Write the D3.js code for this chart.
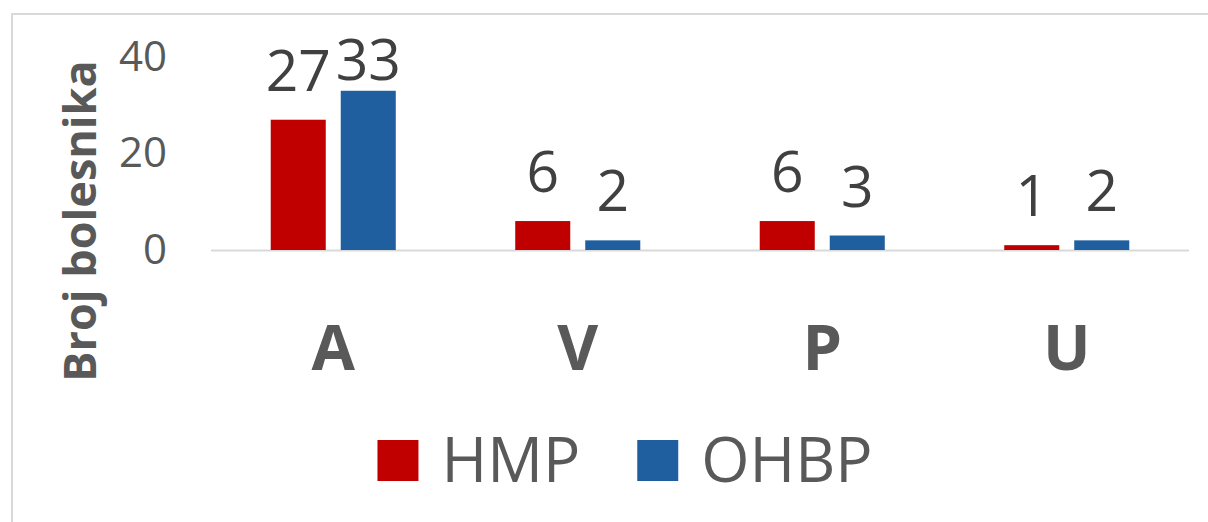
<!DOCTYPE html>
<html>
<head>
<meta charset="utf-8">
<script src="https://cdn.jsdelivr.net/npm/d3@7"></script>
<style>
	html, body { margin: 0; padding: 0; background: #fff; }
	svg { display: block; font-family: "Open Sans", "Liberation Sans", sans-serif; }
</style>
</head>
<body>
<div id="graph"></div>
<script>
// grouped bars, two series per category

var categories = ["A", "V", "P", "U"];
var series = ["HMP", "OHBP"];
var hmpValues = [27, 6, 6, 1];
var ohbpValues = [33, 2, 3, 2];
var yTicks = [0, 20, 40];
var yTitle = "Broj bolesnika";

(function() {
	var graph = {
		width: 1208,
		height: 522,
		left: 211,
		right: 1189,
		base: 250,
		top: 57,
		colors: { HMP: "#C00000", OHBP: "#1F5F9F" },
		svg: null
	};

	var rows = categories.map(function(c, i) {
		return { cat: c, HMP: hmpValues[i], OHBP: ohbpValues[i] };
	});

	graph.svg = d3.select("#graph").append("svg")
		.attr("width", graph.width)
		.attr("height", graph.height);

	// chart area frame (only top and left edges fall inside the picture)
	graph.svg.append("rect")
		.attr("x", 12).attr("y", 14)
		.attr("width", 1300).attr("height", 600)
		.attr("fill", "none")
		.attr("stroke", "#d9d9d9")
		.attr("stroke-width", 2);

	var x0 = d3.scaleBand()
		.domain(categories)
		.range([graph.left, graph.right]);

	var x1 = d3.scaleBand()
		.domain(series)
		.range([0, x0.bandwidth()])
		.paddingInner(0.214)
		.paddingOuter(0.853);

	var y = d3.scaleLinear()
		.domain([0, 40])
		.range([graph.base, graph.top]);

	// y axis labels, no line or ticks
	var yAxis = graph.svg.append("g")
		.attr("transform", "translate(167,0)")
		.call(d3.axisLeft(y).tickValues(yTicks).tickSize(0).tickPadding(0));
	yAxis.select(".domain").remove();
	yAxis.selectAll("text")
		.attr("fill", "#595959")
		.style("font-size", "42px")
		.style("font-family", "'Open Sans', sans-serif");

	// baseline
	graph.svg.append("line")
		.attr("x1", graph.left).attr("x2", graph.right)
		.attr("y1", y(0) + 0.5).attr("y2", y(0) + 0.5)
		.attr("stroke", "#d9d9d9")
		.attr("stroke-width", 2);

	var groups = graph.svg.selectAll("g.cat")
		.data(rows)
		.enter().append("g")
		.attr("class", "cat")
		.attr("transform", function(d) { return "translate(" + x0(d.cat) + ",0)"; });

	var items = function(d) {
		return series.map(function(s) { return { key: s, value: d[s] }; });
	};

	groups.selectAll("rect")
		.data(items)
		.enter().append("rect")
		.attr("x", function(d) { return x1(d.key); })
		.attr("width", x1.bandwidth())
		.attr("y", function(d) { return y(d.value); })
		.attr("height", function(d) { return y(0) - y(d.value); })
		.attr("fill", function(d) { return graph.colors[d.key]; });

	// data labels sit above the bar, but not higher than the chart area allows
	groups.selectAll("text.val")
		.data(items)
		.enter().append("text")
		.attr("class", "val")
		.attr("x", function(d) { return x1(d.key) + x1.bandwidth() / 2; })
		.attr("y", function(d) { return Math.max(y(d.value) - 29, 80); })
		.attr("text-anchor", "middle")
		.attr("fill", "#404040")
		.style("font-size", "57px")
		.text(function(d) { return d.value; });

	// category labels
	graph.svg.selectAll("text.cat")
		.data(categories)
		.enter().append("text")
		.attr("class", "cat")
		.attr("x", function(d) { return x0(d) + x0.bandwidth() / 2; })
		.attr("y", 370)
		.attr("text-anchor", "middle")
		.attr("fill", "#595959")
		.style("font-size", "63px")
		.style("font-weight", "bold")
		.text(function(d) { return d; });

	// y title
	graph.svg.append("text")
		.attr("transform", "translate(96,221) rotate(-90)")
		.attr("text-anchor", "middle")
		.attr("fill", "#595959")
		.style("font-size", "45px")
		.style("font-weight", "bold")
		.text(yTitle);

	// legend
	var legend = graph.svg.append("g");
	var lx = 0;
	series.forEach(function(s, i) {
		var g = legend.append("g").attr("transform", "translate(" + lx + ",0)");
		g.append("rect")
			.attr("x", 0).attr("y", 440)
			.attr("width", 41).attr("height", 41)
			.attr("fill", graph.colors[s]);
		var t = g.append("text")
			.attr("x", 64).attr("y", 482)
			.attr("fill", "#595959")
			.style("font-size", "62px")
			.text(s);
		lx += 64 + t.node().getComputedTextLength() + 57;
	});
	var lw = lx - 57;
	legend.attr("transform", "translate(" + (625 - lw / 2) + ",0)");
})();
</script>
</body>
</html>
